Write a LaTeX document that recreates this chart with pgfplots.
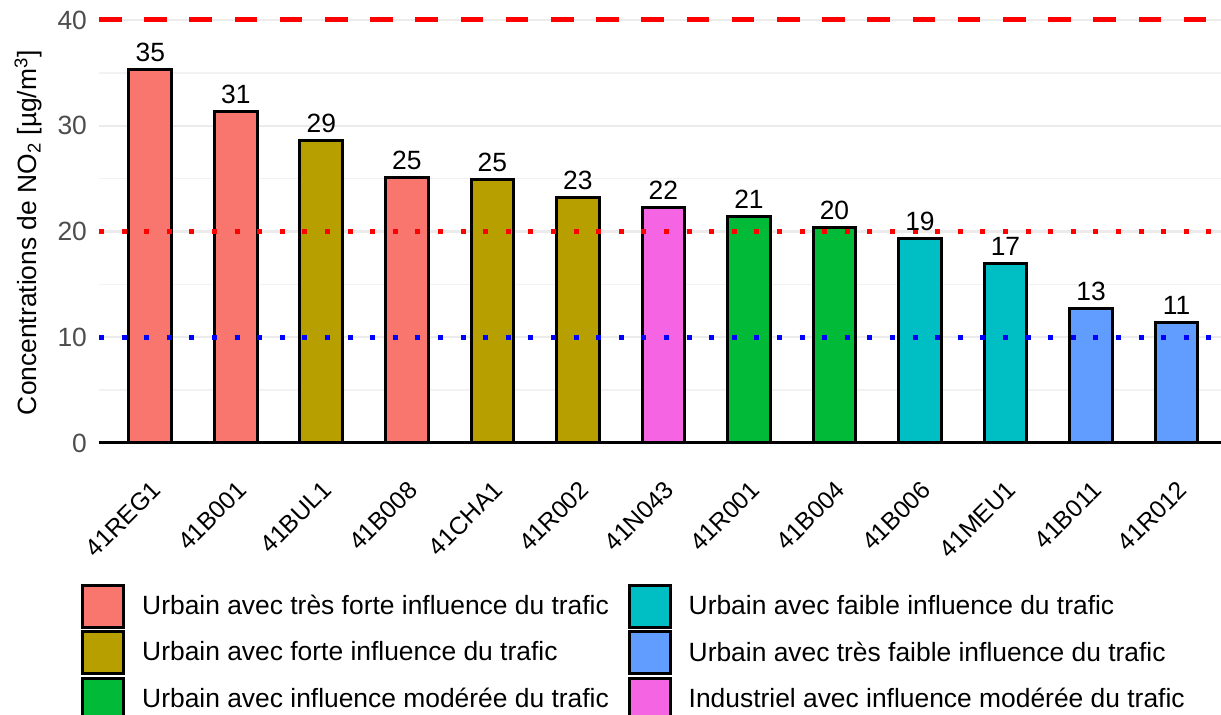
\documentclass[border=0pt]{standalone}
\usepackage{pgfplots}
\pgfplotsset{compat=1.18}
\usepackage{fontspec}
\setmainfont{Liberation Sans}
\definecolor{cA}{HTML}{F8766D}
\definecolor{cB}{HTML}{B79F00}
\definecolor{cC}{HTML}{00BA38}
\definecolor{cD}{HTML}{00BFC4}
\definecolor{cE}{HTML}{619CFF}
\definecolor{cF}{HTML}{F564E3}
\definecolor{tickgray}{HTML}{4D4D4D}
\definecolor{gridmaj}{HTML}{EBEBEB}
\definecolor{gridmin}{HTML}{F2F2F2}
\newcommand{\fs}{\fontsize{13.2}{15.8}\selectfont}
\begin{document}
\begin{tikzpicture}
\useasboundingbox (-49.5pt,-136pt) rectangle (561pt,221.5pt);
\begin{axis}[
  at={(0,0)}, anchor=south west,
  scale only axis, width=561pt, height=221.5pt,
  xmin=-0.6, xmax=12.52, ymin=0, ymax=41.89,
  ybar, bar width=0.5,
  axis x line*=bottom, axis y line*=left,
  x axis line style={-, black, line width=1.5pt},
  y axis line style={draw=none},
  major tick length=0pt, minor tick length=0pt,
  xtick={0,...,12},
  xticklabels={41REG1,41B001,41BUL1,41B008,41CHA1,41R002,41N043,41R001,41B004,41B006,41MEU1,41B011,41R012},
  xticklabel style={yshift=-18pt, rotate=45, anchor=north east, inner sep=0pt, font=\fontsize{12.3}{14}\selectfont, text=black},
  ytick={0,10,20,30,40}, minor ytick={5,15,25,35},
  yticklabel style={font=\fs, text=tickgray, xshift=-2.5pt},
  /pgf/number format/assume math mode=true,
  ymajorgrids, yminorgrids,
  major grid style={gridmaj, line width=1.2pt},
  minor grid style={gridmin, line width=0.8pt},
  ylabel={Concentrations de NO\textsubscript{2} [µg/m\textsuperscript{3}]},
  ylabel style={at={(axis description cs:-0.0633,0.475)}, anchor=center, font=\fs},
  nodes near coords={\pgfmathprintnumber[fixed,precision=0]{\pgfplotspointmeta}},
  every node near coord/.append style={text=black, font=\fs, anchor=south, inner sep=3.2pt},
  legend columns=2,
  legend style={at={(axis description cs:-0.016,-0.316)}, anchor=north west, draw=none, fill=none,
    font=\fs, row sep=0pt, inner sep=0pt,
    /tikz/every even column/.append style={column sep=9.5pt},
    nodes={inner sep=0pt}},
  legend cell align=left,
  legend image code/.code={\draw[#1, line width=1.5pt, draw=black] (0.75pt,-10.5pt) rectangle (21.25pt,10.5pt); \path[draw=none,fill=none] (0pt,-11.57pt) rectangle (30.4pt,11.57pt);},
]
\addplot[fill=cA, draw=black, line width=1.5pt, bar shift=0pt] coordinates {(0,35.3) (1,31.3) (3,25.1)};
\addlegendentry{Urbain avec très forte influence du trafic}
\addplot[fill=cD, draw=black, line width=1.5pt, bar shift=0pt] coordinates {(9,19.3) (10,17.0)};
\addlegendentry{Urbain avec faible influence du trafic}
\addplot[fill=cB, draw=black, line width=1.5pt, bar shift=0pt] coordinates {(2,28.6) (4,24.9) (5,23.2)};
\addlegendentry{Urbain avec forte influence du trafic}
\addplot[fill=cE, draw=black, line width=1.5pt, bar shift=0pt] coordinates {(11,12.7) (12,11.4)};
\addlegendentry{Urbain avec très faible influence du trafic}
\addplot[fill=cC, draw=black, line width=1.5pt, bar shift=0pt] coordinates {(7,21.4) (8,20.4)};
\addlegendentry{Urbain avec influence modérée du trafic}
\addplot[fill=cF, draw=black, line width=1.5pt, bar shift=0pt] coordinates {(6,22.3)};
\addlegendentry{Industriel avec influence modérée du trafic}
\addplot[sharp plot, forget plot, nodes near coords={}, red, line width=2.5pt, dash pattern=on 11.3pt off 11.3pt] coordinates {(-0.6,40) (12.52,40)};
\addplot[sharp plot, forget plot, nodes near coords={}, red, line width=2.5pt, dash pattern=on 2.5pt off 8.8pt] coordinates {(-0.6,20) (12.52,20)};
\addplot[sharp plot, forget plot, nodes near coords={}, blue, line width=2.5pt, dash pattern=on 2.5pt off 8.8pt] coordinates {(-0.6,10) (12.52,10)};
\end{axis}
\end{tikzpicture}
\end{document}
